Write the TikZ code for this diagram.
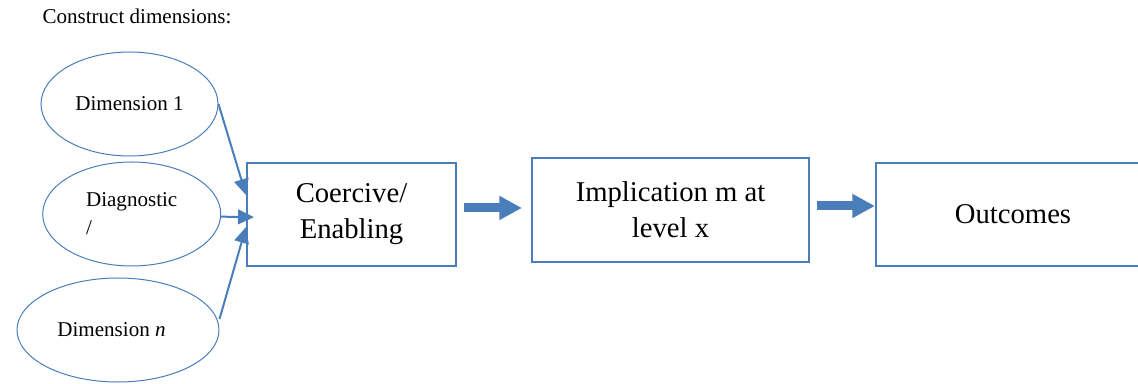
\documentclass[tikz,border=0pt]{standalone}
\usepackage{fontspec}
\setmainfont{Liberation Serif}
\usetikzlibrary{shapes.geometric,arrows.meta}
\definecolor{shapeblue}{RGB}{74,126,187}
\tikzset{every picture/.style={line width=0.75pt}}
\tikzset{
  dimnode/.style={draw=shapeblue, ellipse, inner sep=0pt, minimum height=78pt, font=\fontsize{15.8}{21}\selectfont},
  stagebox/.style={draw=shapeblue, line width=1.5pt, inner sep=0pt, minimum height=77.25pt, align=center, font=\fontsize{21.5}{27}\selectfont},
  thinarrow/.style={draw=shapeblue, line width=1.5pt, -{Triangle[length=12pt,width=11pt]}},
  fatarrow/.style={draw=shapeblue, line width=6.75pt, -{Triangle[length=17pt,width=17pt]}}
}

\begin{document}
\begin{tikzpicture}[x=0.75pt,y=0.75pt,yscale=-1,xscale=1]
\useasboundingbox (0,0) rectangle (1138,384);

% Text Node
\draw (42,24) node [anchor=base west, inner sep=0pt, font=\fontsize{15.8}{19}\selectfont] (title) {Construct dimensions:};

%Shape: Ellipse
\node [dimnode, minimum width=132.75pt] (dim1) at (129.5,104) {Dimension 1};
%Shape: Ellipse
\node [dimnode, minimum width=133.5pt, align=left] (diag) at (131.7,214) {Diagnostic\\/};
%Shape: Ellipse
\node [dimnode, minimum width=151.5pt] (dimn) at (118,330) {Dimension \textit{n}\hspace*{9.75pt}};

%Shape: Rectangle
\node [stagebox, minimum width=156.75pt] (coerc) at (351.5,214.5) {Coercive/\\Enabling};
%Shape: Rectangle
\node [stagebox, minimum width=207.75pt, minimum height=78pt] (implic) at (670.5,210) {Implication m at\\level x};
%Shape: Rectangle
\node [stagebox, minimum width=205.5pt] (outc) at (1013,214.5) {Outcomes};

%Straight Lines
\draw [thinarrow] (dim1.east) -- ([yshift=-14.6pt]coerc.west);
\draw [thinarrow] ([yshift=2pt]diag.east) -- ([xshift=6pt,yshift=2pt]coerc.west);
\draw [thinarrow] ([yshift=-8.25pt]dimn.east) -- ([yshift=9.4pt]coerc.west);

%Block Arrows
\coordinate (a1) at ([xshift=5.25pt,yshift=-4.9pt]coerc.east);
\draw [fatarrow, shorten >=6.75pt] (a1) -- (a1 -| implic.west);
\coordinate (a2) at ([xshift=5.25pt,yshift=-3pt]implic.east);
\draw [fatarrow] (a2) -- (a2 -| outc.west);

\end{tikzpicture}
\end{document}
